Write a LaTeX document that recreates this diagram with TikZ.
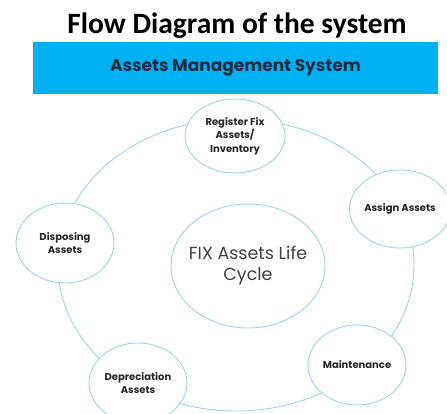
\documentclass[tikz,border=0pt]{standalone}
\usepackage{fontspec}
\usepackage{tikz}
\usetikzlibrary{shapes.geometric}
\newfontfamily\titlefont{Carlito}
\newfontfamily\cyclefont{Poppins}
\definecolor{barblue}{HTML}{00B0F0}
\definecolor{ringblue}{HTML}{9DD4E0}
\definecolor{navytext}{HTML}{1B2A41}
\tikzset{%
    stage/.style={%
        ellipse, draw=ringblue, fill=white, line width=0.9pt,
        minimum width=98pt, minimum height=80pt, inner sep=0pt,
        align=center, text=black!85,
        font=\cyclefont\bfseries\fontsize{10}{12.5}\selectfont
    }
}

\begin{document}
\begin{tikzpicture}[x=1pt,y=1pt]
    \useasboundingbox (0,0) rectangle (447,414);
    \node[font=\titlefont\bfseries\fontsize{29.5}{32}\selectfont, anchor=base] (title) at (237,380) {Flow Diagram of the system};
	\node[fill=barblue, minimum width=405pt, minimum height=52pt, text=navytext,
	  font=\cyclefont\bfseries\fontsize{17}{19}\selectfont] (bar) at (235.5,346) {Assets Management System};
    % the life cycle ring, the stages sit on top of it
    \node[ellipse, draw=ringblue, line width=0.9pt, minimum width=356pt, minimum height=292pt] (ring) at (236,149) {};
    \node[ellipse, draw=ringblue, fill=white, line width=0.9pt, minimum width=154pt, minimum height=124pt,
      label={[align=center, text=black!75, font=\cyclefont\fontsize{17.5}{21}\selectfont]center:FIX Assets Life\\Cycle}] (life) at (248,148) {};
    \node[stage, minimum width=100pt, minimum height=74pt, font=\cyclefont\bfseries\fontsize{10}{13.5}\selectfont] (register) at (235,278) {Register Fix\\Assets/\\Inventory};
    \node[stage, minimum width=86pt, minimum height=78pt] (assign) at (400,205) {Assign Assets};
    \node[stage] (maint) at (357,49) {Maintenance};
    \node[stage] (deprec) at (138,31) {Depreciation\\Assets};
    \node[stage] (dispose) at (65,171) {Disposing\\Assets};
  \end{tikzpicture}
\end{document}
